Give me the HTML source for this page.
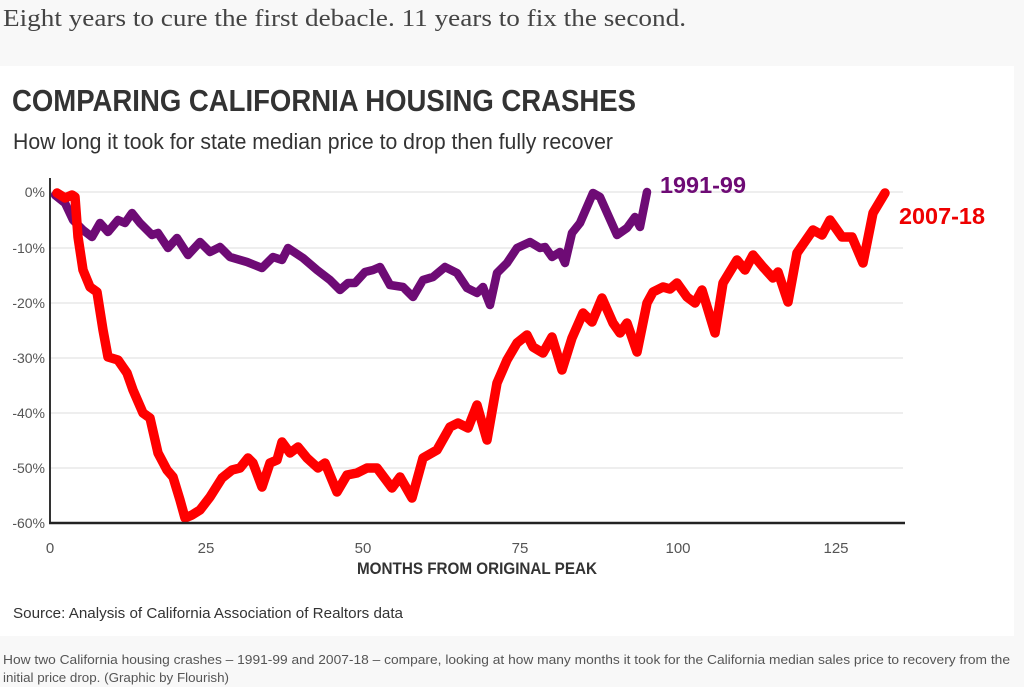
<!DOCTYPE html>
<html><head><meta charset="utf-8"><style>
html,body{margin:0;padding:0;background:#f8f8f8;width:1024px;height:687px;overflow:hidden}
svg{display:block}
text{font-family:"Liberation Sans",sans-serif}
</style></head><body>
<svg width="1024" height="687" viewBox="0 0 1024 687">
<rect width="1024" height="687" fill="#f8f8f8"/>
<text x="3" y="26" font-size="24" fill="#444" textLength="683" lengthAdjust="spacingAndGlyphs" style="font-family:'Liberation Serif',serif">Eight years to cure the first debacle. 11 years to fix the second.</text>
<rect x="0" y="66" width="1014" height="570" fill="#fff"/>
<text x="12" y="111" font-size="31" font-weight="bold" fill="#333" textLength="624" lengthAdjust="spacingAndGlyphs">COMPARING CALIFORNIA HOUSING CRASHES</text>
<text x="13" y="149" font-size="22" fill="#333" textLength="600" lengthAdjust="spacingAndGlyphs">How long it took for state median price to drop then fully recover</text>
<g stroke="#e8e8e8" stroke-width="1.5">
<line x1="50" x2="903" y1="192" y2="192"/><line x1="50" x2="903" y1="248" y2="248"/>
<line x1="50" x2="903" y1="303" y2="303"/><line x1="50" x2="903" y1="358" y2="358"/>
<line x1="50" x2="903" y1="413" y2="413"/><line x1="50" x2="903" y1="468" y2="468"/>
</g>
<g font-size="14" fill="#555" text-anchor="end">
<text x="45" y="197">0%</text><text x="45" y="253">-10%</text><text x="45" y="308">-20%</text>
<text x="45" y="363">-30%</text><text x="45" y="418">-40%</text><text x="45" y="473">-50%</text><text x="45" y="528">-60%</text>
</g>
<g font-size="15" fill="#555" text-anchor="middle">
<text x="50" y="553">0</text><text x="206" y="553">25</text><text x="363" y="553">50</text>
<text x="520" y="553">75</text><text x="678" y="553">100</text><text x="836" y="553">125</text>
</g>
<text x="357" y="574" font-size="17" font-weight="bold" fill="#333" textLength="240" lengthAdjust="spacingAndGlyphs">MONTHS FROM ORIGINAL PEAK</text>
<text x="13" y="618" font-size="15" fill="#333" textLength="390" lengthAdjust="spacingAndGlyphs">Source: Analysis of California Association of Realtors data</text>
<polyline fill="none" stroke="#6e0b75" stroke-width="8.5" stroke-linejoin="round" stroke-linecap="round" points="55,195 65,203 73,220 83,230 92,237 100,223 108,232 118,220 125,223 132,213 140,223 152,235 158,233 168,248 177,238 188,255 200,242 210,252 220,247 230,257 247,262 262,268 273,257 282,260 288,248 303,258 317,270 330,280 340,290 348,283 355,283 365,272 373,270 380,267 390,285 403,287 413,297 423,280 433,277 445,267 457,273 467,288 477,293 483,287 490,305 497,273 507,263 517,248 530,242 540,248 545,247 552,257 560,252 565,263 572,233 580,223 593,193 600,197 617,235 627,228 635,217 640,227 647,192"/>
<polyline fill="none" stroke="#f00" stroke-width="9.5" stroke-linejoin="round" stroke-linecap="round" points="57,193 65,198 72,195 75,197 78,237 83,270 90,287 97,292 103,330 108,357 118,360 127,373 133,390 143,413 150,418 158,453 167,470 173,477 180,500 185,518 192,515 200,510 210,497 222,478 232,470 240,468 248,458 253,463 262,487 270,463 277,460 282,442 290,453 298,447 307,458 318,468 325,463 337,492 347,475 357,473 367,468 377,468 383,476 392,488 400,477 412,498 423,458 437,450 450,427 458,423 468,428 477,405 487,440 497,383 507,360 517,343 527,335 533,347 543,353 552,337 562,370 572,338 583,313 592,322 602,298 613,323 620,333 627,323 637,352 647,303 653,292 663,287 670,289 677,283 687,297 695,303 702,290 715,333 723,283 737,260 745,270 753,255 763,267 773,278 778,272 788,302 797,253 813,230 822,235 830,220 842,237 852,237 863,263 873,213 885,193"/>
<line x1="50" y1="178" x2="50" y2="524" stroke="#333" stroke-width="2"/>
<line x1="49" y1="523" x2="905" y2="523" stroke="#222" stroke-width="2.5"/>
<text x="660" y="193" font-size="23" font-weight="bold" fill="#6e0b75" textLength="86" lengthAdjust="spacingAndGlyphs">1991-99</text>
<text x="899" y="224" font-size="23" font-weight="bold" fill="#e00" textLength="86" lengthAdjust="spacingAndGlyphs">2007-18</text>
<text x="3" y="664" font-size="13" fill="#555" textLength="1007" lengthAdjust="spacingAndGlyphs">How two California housing crashes – 1991-99 and 2007-18 – compare, looking at how many months it took for the California median sales price to recovery from the</text>
<text x="3" y="682" font-size="13" fill="#555" textLength="226" lengthAdjust="spacingAndGlyphs">initial price drop. (Graphic by Flourish)</text>
</svg>
</body></html>
